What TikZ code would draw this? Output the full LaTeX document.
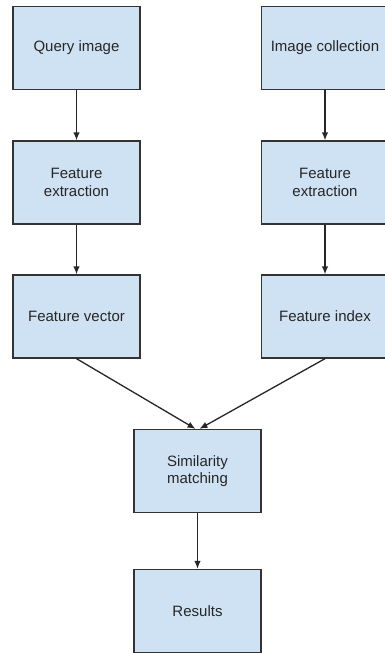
\documentclass[tikz,border=0pt]{standalone}
\usepackage{fontspec}
\setmainfont{Liberation Sans}
\usepackage{tikz}
\usetikzlibrary{arrows.meta}

\definecolor{boxfill}{HTML}{CFE2F3}
\definecolor{boxline}{HTML}{333333}

\tikzset{
  stage/.style={draw=boxline, fill=boxfill, line width=1.3pt,
    minimum width=127pt, minimum height=83pt, inner sep=0pt,
    align=center, font=\fontsize{15}{17.5}\selectfont, text=black!85},
  flow/.style={-{Latex[length=8pt,width=6.5pt]}, line width=1.3pt, black!85}
}

\begin{document}
\begin{tikzpicture}[x=1pt,y=-1pt]
        \useasboundingbox (0,0) rectangle (384,653);
        % left branch: query
        \node[stage] (query)  at (76.5,48)    {Query image};
        \node[stage] (qfeat)  at (76.5,182.5) {Feature\\extraction};
        \node[stage] (qvec)   at (76.5,316.5) {Feature vector};
        % right branch: collection
        \node[stage] (coll)   at (325,48)     {Image collection};
        \node[stage] (cfeat)  at (325,182.5)  {Feature\\extraction};
        \node[stage] (cidx)   at (325,316.5)  {Feature index};
        % merge
        \node[stage] (match)  at (197.5,471)  {Similarity\\matching};
        \node[stage] (result) at (197.5,611)  {Results};

        \draw[flow] (query) -- (qfeat);
        \draw[flow] (qfeat) -- (qvec);
        \draw[flow] (coll) -- (cfeat);
        \draw[flow] (cfeat) -- (cidx);
        \draw[flow] (qvec.south) -- ([xshift=-2pt]match.north);
        \draw[flow] (cidx.south) -- ([xshift=2pt]match.north);
        \draw[flow] (match) -- (result);
\end{tikzpicture}
\end{document}
